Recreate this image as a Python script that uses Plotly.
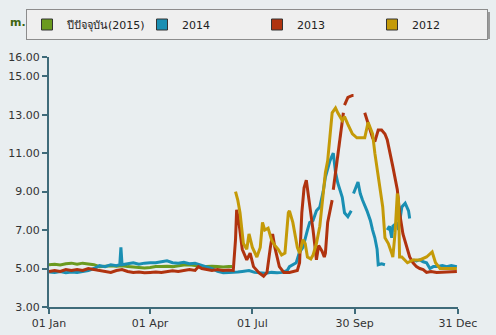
import pandas as pd
import plotly.graph_objects as go

# ---------------- data (day offset from 1 Jan, value in m.msl) ----------------
days_2015 = [0, 5, 10, 15, 20, 25, 30, 35, 40, 45, 50, 55, 60, 65, 70, 75, 80, 85, 90, 95,
             100, 105, 110, 115, 120, 125, 130, 135, 140, 145, 150, 155, 160, 163]
vals_2015 = [5.2, 5.22, 5.18, 5.25, 5.28, 5.22, 5.28, 5.25, 5.2, 5.1, 5.12, 5.15, 5.12, 5.15, 5.1,
             5.08, 5.05, 5.03, 5.05, 5.1, 5.1, 5.12, 5.1, 5.15, 5.18, 5.2, 5.15, 5.12, 5.1, 5.12,
             5.1, 5.08, 5.1, 5.1]

days_2014 = [0, 5, 10, 15, 20, 25, 30, 35, 40, 45, 50, 55, 60, 63, 64, 65, 70, 75, 80, 85, 90, 95,
             100, 105, 110, 115, 120, 125, 130, 135, 140, 145, 150, 155, 160, 163,
             168, 172, 178, 183, 188, 193, 198, 203, 208, 212, 214, 217, 220, 223, 226, 230, 232,
             235, 238, 241, 244, 246, 250, 253, 255, 257, 261, 263, 266, 269, None,
             271, 275, 277, 279, 283, 286, 288, 290, 292, 293, 296, 299, None,
             301, 303, 305, 306, 310, 311, 314, 317, 320, 321, None,
             324, 327, 330, 333, 336, 339, 342, 345, 350, 354, 358, 363]
vals_2014 = [4.82, 4.8, 4.85, 4.78, 4.82, 4.8, 4.85, 4.9, 5.0, 5.15, 5.1, 5.2, 5.15, 5.2, 6.1, 5.2,
             5.25, 5.3, 5.22, 5.28, 5.3, 5.3, 5.35, 5.4, 5.3, 5.28, 5.32, 5.25, 5.28, 5.2, 5.1, 5.0,
             4.85, 4.78, 4.8, 4.8,
             4.82, 4.85, 4.9, 4.8, 4.78, 4.75, 4.8, 4.78, 4.8, 4.9, 5.1, 5.2, 5.3, 5.86, 6.1, 7.0, 7.4,
             7.5, 8.0, 8.2, 9.0, 9.76, 10.6, 11.0, 10.0, 9.45, 8.7, 7.9, 7.7, 8.0, None,
             8.9, 9.5, 8.9, 8.56, 8.0, 7.5, 7.0, 6.6, 6.0, 5.2, 5.25, 5.2, None,
             7.0, 7.2, 6.6, 7.2, 7.4, 7.0, 8.2, 8.4, 8.0, 7.6, None,
             5.45, 5.4, 5.45, 5.35, 5.3, 5.0, 5.1, 5.1, 5.15, 5.1, 5.15, 5.1]

days_2013 = [0, 5, 10, 15, 20, 25, 30, 35, 40, 45, 50, 55, 60, 65, 70, 75, 80, 85, 90, 95, 100,
             105, 110, 115, 120, 125, 130, 133, 136, 140, 145, 150, 155, 160, 164, 166, 167, 169,
             172, 176, 179, 182, 187, 191, 194, 197, 199, 201, 205, 209, 214, 221, 223, 225, 227,
             229, 230, 232, 235, 237, 238, 240, 243, 245, 246, 248, 252, None,
             253, 256, 259, 262, None, 263, 266, 270, 271, None,
             281, 284, 288, 290, 293, 296, 299, 301, 303, 306, 310, 312, 315, 319, 321, 324, 327,
             330, 333, 336, 340, 345, 350, 354, 358, 363]
vals_2013 = [4.85, 4.9, 4.85, 4.95, 4.9, 4.95, 4.9, 5.0, 4.95, 4.9, 4.85, 4.8, 4.9, 4.95, 4.85,
             4.8, 4.82, 4.78, 4.8, 4.82, 4.8, 4.85, 4.88, 4.85, 4.9, 4.95, 4.9, 5.1, 5.0, 4.95, 4.9,
             4.95, 4.9, 4.92, 4.9, 6.5, 8.05, 7.4, 6.0, 5.45, 5.8, 5.1, 4.77, 4.6, 4.8, 6.1, 6.8,
             6.1, 5.1, 4.8, 4.8, 4.9, 5.3, 7.9, 9.2, 9.6, 9.2, 8.4, 7.0, 6.0, 5.45, 6.2, 5.9, 5.6,
             5.8, 7.4, 8.56, None,
             9.1, 10.5, 11.8, 13.1, None, 13.5, 13.9, 14.0, 14.0, None,
             13.1, 12.5, 11.8, 11.6, 12.2, 12.2, 12.0, 11.7, 11.2, 10.3, 9.1, 7.9, 6.8, 6.0, 5.6,
             5.3, 5.1, 5.0, 4.95, 4.8, 4.85, 4.8, 4.82, 4.8, 4.82, 4.85]

days_2012 = [166, 168, 170, 173, 176, 178, 181, 185, 188, 190, 192, 195, 198, 201, 204, 207, 210,
             213, 214, 217, 221, 223, 226, 228, 230, 233, 235, 238, 241, 244, 246, 248, 250, 252,
             255, 257, 261, 263, 266, 270, 274, 279, 281, 284, 288, 290, 293, 297, 299, 302, 305,
             306, 308, 310, 311, 312, 314, 319, 324, 330, 336, 341, 344, 348, 354, 363]
vals_2012 = [9.0, 8.56, 7.9, 6.3, 6.0, 6.8, 6.1, 5.6, 6.1, 7.4, 7.0, 7.1, 6.5, 6.2, 6.0, 5.7, 5.8,
             7.9, 8.0, 7.4, 6.1, 5.8, 6.5, 6.3, 5.6, 5.5, 5.7, 6.3, 7.2, 8.9, 10.0, 10.6, 12.0, 13.1,
             13.35, 13.1, 12.7, 12.9, 12.5, 12.0, 11.8, 11.8, 11.8, 12.6, 12.0, 11.0, 9.76, 8.2, 6.6,
             6.3, 5.8, 5.6, 6.85, 8.9, 8.6, 5.6, 5.6, 5.3, 5.45, 5.45, 5.6, 5.86, 5.3, 5.0, 5.0, 5.0]

series_names = ["ปีปัจจุบัน(2015)", "2014", "2013", "2012"]
series_colors = ["#6b9a1f", "#1a8fb3", "#b0330f", "#c49a08"]
series_days = [days_2015, days_2014, days_2013, days_2012]
series_vals = [vals_2015, vals_2014, vals_2013, vals_2012]

y_ticks = [3, 5, 7, 9, 11, 13, 15, 16]
x_tick_dates = ["2015-01-01", "2015-04-01", "2015-07-01", "2015-09-30", "2015-12-31"]
x_tick_text = ["01 Jan", "01 Apr", "01 Jul", "30 Sep", "31 Dec"]

base = pd.Timestamp("2015-01-01")


def to_dates(days):
    return [None if d is None else (base + pd.Timedelta(days=d)).strftime("%Y-%m-%d") for d in days]


fig = go.Figure()
# lines
for name, col, dd, vv in zip(series_names, series_colors, series_days, series_vals):
    fig.add_trace(go.Scatter(x=to_dates(dd), y=vv, mode="lines", name=name,
                             line=dict(color=col, width=3), showlegend=False,
                             connectgaps=False, hoverinfo="skip"))
# legend entries (square swatches)
for name, col in zip(series_names, series_colors):
    fig.add_trace(go.Scatter(x=[None], y=[None], mode="markers", name=name,
                             marker=dict(symbol="square", size=11, color=col,
                                         line=dict(color="#333333", width=1)),
                             showlegend=True))

W, H = 496, 335


def fx(xp):
    return xp / W


def fy(yp):
    return 1 - yp / H


axis_col = "#3f6b7a"

fig.update_layout(
    width=W, height=H,
    margin=dict(l=0, r=0, t=0, b=0, autoexpand=False),
    paper_bgcolor="#e9eef0",
    plot_bgcolor="#e9eef0",
    font=dict(family="DejaVu Sans, Verdana, sans-serif", size=11, color="#333333"),
    showlegend=True,
    legend=dict(orientation="h", x=fx(26), xanchor="left", y=fy(9), yanchor="top",
                bgcolor="#efefef", bordercolor="#8c8c8c", borderwidth=1,
                entrywidth=70, entrywidthmode="pixels",
                font=dict(size=11, color="#222222"), itemwidth=30,
                tracegroupgap=0),
    shapes=[dict(type="rect", xref="paper", yref="paper",
                 x0=fx(29), x1=fx(490), y0=fy(39), y1=fy(12),
                 fillcolor="#9a9a9a", line=dict(width=0), layer="below")],
    annotations=[dict(text="<b>m.</b>", xref="paper", yref="paper", x=fx(8), y=fy(22),
                      xanchor="left", yanchor="middle", showarrow=False,
                      font=dict(size=11, color="#3d6410"))],
    xaxis=dict(type="date", range=["2015-01-01", "2015-12-31"],
               domain=[fx(49), fx(458)], automargin=False,
               tickvals=x_tick_dates, ticktext=x_tick_text,
               showgrid=False, zeroline=False,
               showline=True, linecolor=axis_col, linewidth=2,
               ticks="outside", ticklen=5, tickwidth=2, tickcolor=axis_col,
               tickfont=dict(size=11, color="#333333")),
    yaxis=dict(range=[3, 16], domain=[fy(307), fy(57)], automargin=False,
               tickvals=y_ticks, ticktext=[f"{v:.2f}" for v in y_ticks],
               showgrid=False, zeroline=False,
               showline=True, linecolor=axis_col, linewidth=2,
               ticks="outside", ticklen=5, tickwidth=2, tickcolor=axis_col,
               tickfont=dict(size=11, color="#333333")),
)

fig.write_html("out.html")
